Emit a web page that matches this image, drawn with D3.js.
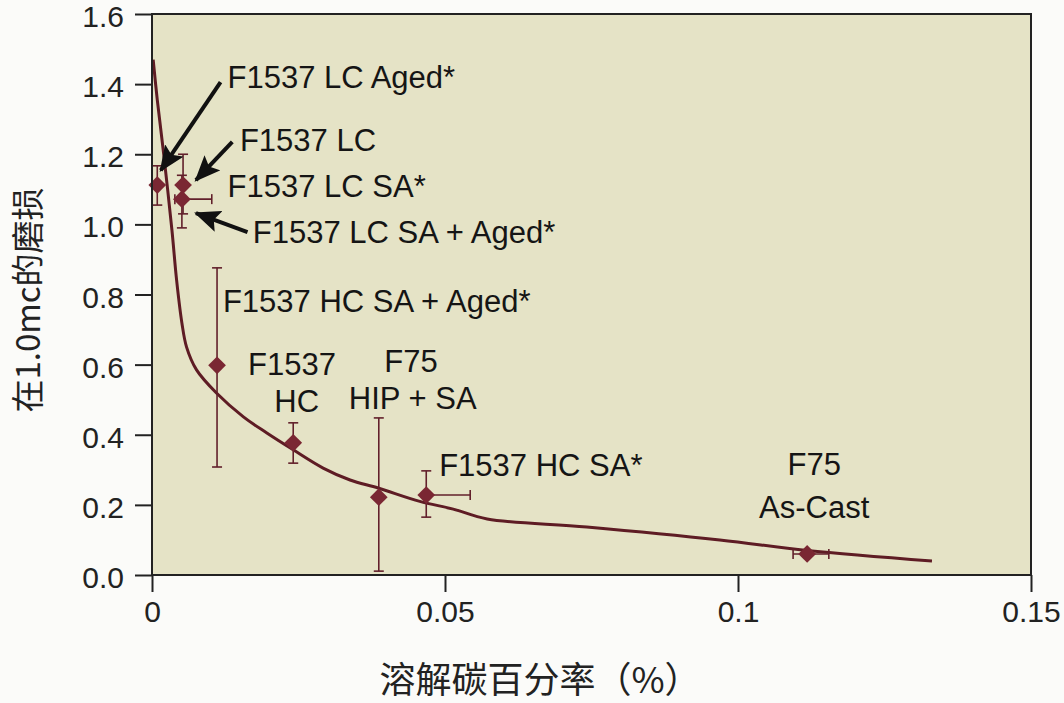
<!DOCTYPE html>
<html>
<head>
<meta charset="utf-8">
<script src="https://cdn.jsdelivr.net/npm/d3@7"></script>
<style>
  html, body { margin: 0; padding: 0; background: #fbfbf9; }
  svg { display: block; }
</style>
</head>
<body>
<div id="chart"></div>
<script>
// fitted curve
const curveX = [0.0002, 0.0009, 0.002, 0.0034, 0.0042, 0.0051, 0.0059, 0.0076, 0.011, 0.0156, 0.0196, 0.0241, 0.0292, 0.0338, 0.0386, 0.0457, 0.0514, 0.0572, 0.0742, 0.0969, 0.1118, 0.1331];
const curveY = [1.47, 1.355, 1.2, 0.984, 0.841, 0.719, 0.65, 0.585, 0.519, 0.451, 0.405, 0.357, 0.305, 0.271, 0.248, 0.21, 0.188, 0.16, 0.137, 0.1, 0.07, 0.04];

// measured points with error bars
const pointNames = ["F1537 LC Aged*", "F1537 LC", "F1537 LC SA + Aged*", "F1537 HC SA + Aged*", "F1537 HC", "F75 HIP + SA", "F1537 HC SA*", "F75 As-Cast"];
const pointX = [0.0009, 0.0053, 0.0051, 0.0111, 0.0241, 0.0387, 0.0468, 0.1118];
const pointY = [1.112, 1.112, 1.072, 0.598, 0.377, 0.222, 0.228, 0.060];
const yLow = [1.055, 1.03, 0.99, 0.308, 0.319, 0.011, 0.165, 0.060];
const yHigh = [1.167, 1.20, 1.14, 0.876, 0.434, 0.448, 0.297, 0.060];
const xLow = [0.0009, 0.0053, 0.0039, 0.0111, 0.0241, 0.0387, 0.0468, 0.1094];
const xHigh = [0.0009, 0.0053, 0.0102, 0.0111, 0.0241, 0.0387, 0.0543, 0.1155];

const xTicks = [0, 0.05, 0.1, 0.15];
const xTickLabels = ["0", "0.05", "0.1", "0.15"];
const yTicks = [0, 0.2, 0.4, 0.6, 0.8, 1.0, 1.2, 1.4, 1.6];

const xTitle = "溶解碳百分率（%）";
const yTitle = "在1.0mc的磨损";

// annotation text lines
const labelText = ["F1537 LC Aged*", "F1537 LC", "F1537 LC SA*", "F1537 LC SA + Aged*", "F1537 HC SA + Aged*", "F1537", "HC", "F75", "HIP + SA", "F1537 HC SA*", "F75", "As-Cast"];
const labelX = [0.0129, 0.0150, 0.0129, 0.0172, 0.0121, 0.0239, 0.0247, 0.0442, 0.0445, 0.0490, 0.1130, 0.1130];
const labelY = [1.39, 1.21, 1.078, 0.947, 0.75, 0.571, 0.465, 0.580, 0.474, 0.282, 0.285, 0.163];
const labelAnchor = ["start", "start", "start", "start", "start", "middle", "middle", "middle", "middle", "start", "middle", "middle"];

// arrows: tail to head, in data units
const arrowFrom = [[0.0117, 1.406], [0.0137, 1.235], [0.0163, 0.978]];
const arrowTo = [[0.0015, 1.154], [0.0075, 1.126], [0.0075, 1.032]];

document.addEventListener("DOMContentLoaded", function(){
    const width = 1064, height = 703;
    const svg = d3.select("#chart").append("svg")
        .attr("width", width)
        .attr("height", height);

    const x = d3.scaleLinear().domain([0, 0.15]).range([152, 1031]);
    const y = d3.scaleLinear().domain([0, 1.6]).range([575, 14]);

    const maroon = "#5e1c24";
    const markerFill = "#7a2733";
    const tickFont = "'Liberation Sans', Arial, sans-serif";

    // plot background
    svg.append("rect")
        .attr("x", x(0)).attr("y", y(1.6))
        .attr("width", x(0.15) - x(0)).attr("height", y(0) - y(1.6))
        .attr("fill", "#e5e3c6");

    // arrow head
    svg.append("defs").append("marker")
        .attr("id", "head")
        .attr("markerUnits", "userSpaceOnUse")
        .attr("viewBox", "0 0 26 22")
        .attr("refX", 24).attr("refY", 11)
        .attr("markerWidth", 26).attr("markerHeight", 22)
        .attr("orient", "auto")
        .append("path")
        .attr("d", "M0,0 L26,11 L0,22 L5,11 Z")
        .attr("fill", "#111");

    // curve
    const curvePts = curveX.map((d, i) => [d, curveY[i]]);
    svg.append("path")
        .datum(curvePts)
        .attr("fill", "none")
        .attr("stroke", maroon)
        .attr("stroke-width", 3)
        .attr("d", d3.line().x(d => x(d[0])).y(d => y(d[1])).curve(d3.curveCatmullRom.alpha(0.5)));

    // error bars
    const pts = pointNames.map((n, i) => ({
        name: n, x: pointX[i], y: pointY[i],
        y0: yLow[i], y1: yHigh[i], x0: xLow[i], x1: xHigh[i]
    }));
    const cap = 5;
    const eb = svg.append("g").attr("stroke", "#62202b").attr("stroke-width", 1.6).attr("fill", "none");
    pts.forEach(p => {
        if(p.y1 > p.y0){
            eb.append("line").attr("x1", x(p.x)).attr("x2", x(p.x)).attr("y1", y(p.y0)).attr("y2", y(p.y1));
            eb.append("line").attr("x1", x(p.x) - cap).attr("x2", x(p.x) + cap).attr("y1", y(p.y0)).attr("y2", y(p.y0));
            eb.append("line").attr("x1", x(p.x) - cap).attr("x2", x(p.x) + cap).attr("y1", y(p.y1)).attr("y2", y(p.y1));
        }
        if(p.x1 > p.x0){
            eb.append("line").attr("x1", x(p.x0)).attr("x2", x(p.x1)).attr("y1", y(p.y)).attr("y2", y(p.y));
            if(p.x0 < p.x) eb.append("line").attr("x1", x(p.x0)).attr("x2", x(p.x0)).attr("y1", y(p.y) - cap).attr("y2", y(p.y) + cap);
            eb.append("line").attr("x1", x(p.x1)).attr("x2", x(p.x1)).attr("y1", y(p.y) - cap).attr("y2", y(p.y) + cap);
        }
    });

    // diamonds
    svg.append("g").selectAll("path")
        .data(pts)
        .join("path")
        .attr("transform", d => `translate(${x(d.x)},${y(d.y)})`)
        .attr("d", d3.symbol(d3.symbolDiamond2, 200))
        .attr("fill", markerFill);

    // axes
    const yAxis = d3.axisLeft(y).tickValues(yTicks).tickFormat(d3.format(".1f"))
        .tickSize(17).tickSizeOuter(0).tickPadding(11);
    const xAxis = d3.axisBottom(x).tickValues(xTicks).tickFormat((d, i) => xTickLabels[i])
        .tickSize(17).tickSizeOuter(0).tickPadding(9);

    const gy = svg.append("g").attr("transform", `translate(${x(0)},0)`).call(yAxis);
    const gx = svg.append("g").attr("transform", `translate(0,${y(0)})`).call(xAxis);
    [gx, gy].forEach(g => {
        g.select(".domain").remove();
        g.selectAll(".tick line").attr("stroke", "#222").attr("stroke-width", 2);
        g.selectAll(".tick text").attr("fill", "#222")
            .style("font-family", tickFont).style("font-size", "30px");
    });
    gy.selectAll(".tick text").attr("dy", "0.42em");

    // frame
    svg.append("rect")
        .attr("x", x(0)).attr("y", y(1.6))
        .attr("width", x(0.15) - x(0)).attr("height", y(0) - y(1.6))
        .attr("fill", "none").attr("stroke", "#222").attr("stroke-width", 2);

    // arrows
    arrowFrom.forEach((f, i) => {
        svg.append("line")
            .attr("x1", x(f[0])).attr("y1", y(f[1]))
            .attr("x2", x(arrowTo[i][0])).attr("y2", y(arrowTo[i][1]))
            .attr("stroke", "#111").attr("stroke-width", 4)
            .attr("marker-end", "url(#head)");
    });

    // annotation labels
    svg.append("g").selectAll("text")
        .data(labelText)
        .join("text")
        .attr("x", (d, i) => x(labelX[i]))
        .attr("y", (d, i) => y(labelY[i]))
        .attr("text-anchor", (d, i) => labelAnchor[i])
        .attr("fill", "#151515")
        .style("font-family", tickFont)
        .style("font-size", "31px")
        .text(d => d);

    // axis titles
    svg.append("text")
        .attr("x", 540).attr("y", 693)
        .attr("text-anchor", "middle")
        .attr("fill", "#222")
        .style("font-family", "'Noto Sans CJK SC', sans-serif")
        .style("font-size", "36px")
        .text(xTitle);

    svg.append("text")
        .attr("transform", "translate(40,300) rotate(-90)")
        .attr("text-anchor", "middle")
        .attr("fill", "#222")
        .style("font-family", "'Noto Sans CJK SC', sans-serif")
        .style("font-size", "33px")
        .text(yTitle);
});
</script>
</body>
</html>
